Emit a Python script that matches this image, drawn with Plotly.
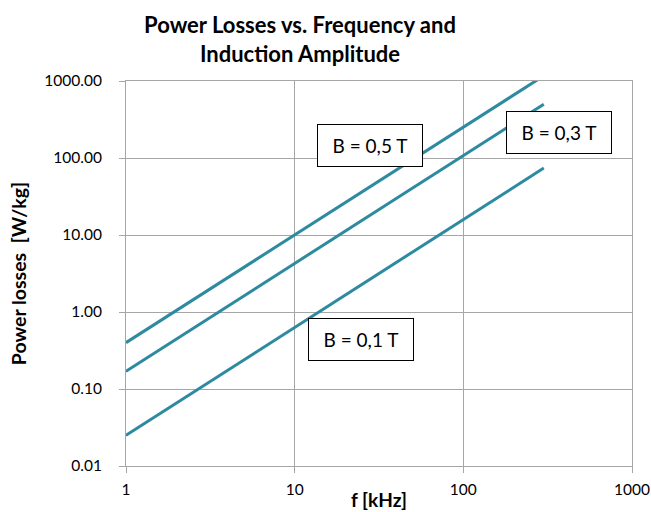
import plotly.graph_objects as go

freq_khz = [1, 10, 100, 300]
loss_b05 = [0.40, 10.0, 252, 1170]
loss_b03 = [0.17, 4.25, 107, 500]
loss_b01 = [0.025, 0.63, 15.8, 74]
series_names = ["B = 0,5 T", "B = 0,3 T", "B = 0,1 T"]
y_ticks = [0.01, 0.1, 1, 10, 100, 1000]
x_ticks = [1, 10, 100, 1000]

LINE = "#2E8AA0"
GRID = "#A6A6A6"
FONT = "Lato, Open Sans, sans-serif"

W, H = 651, 512

fig = go.Figure()
for name, ys in zip(series_names, [loss_b05, loss_b03, loss_b01]):
    fig.add_trace(go.Scatter(x=freq_khz, y=ys, mode="lines", name=name,
                             line=dict(color=LINE, width=3), showlegend=False))

ann_pos = [(0.482, 0.8325), (0.855, 0.8675), (0.465, 0.3286)]
for name, (ax, ay) in zip(series_names, ann_pos):
    fig.add_annotation(x=ax, y=ay, xref="paper", yref="paper", text=name,
                       xanchor="center", yanchor="middle",
                       showarrow=False, bgcolor="white", bordercolor="black",
                       borderwidth=1, width=102, height=39,
                       font=dict(size=19, color="black", family=FONT))

# x-axis title (placed as annotation so it sits at the bottom edge like the reference)
fig.add_annotation(x=0.5, y=-0.1185, xref="paper", yref="paper",
                   text="<b>f [kHz]</b>", showarrow=False,
                   xanchor="center", yanchor="bottom", borderpad=0,
                   font=dict(size=19, color="black", family=FONT))

fig.update_layout(
    width=W, height=H,
    margin=dict(l=126, r=19, t=81, b=46, autoexpand=False),
    paper_bgcolor="white", plot_bgcolor="white",
    title=dict(text="<b>Power Losses vs. Frequency and<br>Induction Amplitude</b>",
               x=300/W, xanchor="center", y=0.935, yanchor="top",
               font=dict(size=22, color="black", family=FONT)),
    font=dict(family=FONT, color="black"),
)
fig.update_xaxes(type="log", range=[0, 3], tickvals=x_ticks,
                 ticktext=[str(v) for v in x_ticks], automargin=False,
                 showgrid=True, gridcolor=GRID, gridwidth=1,
                 showline=True, linecolor=GRID, linewidth=1, mirror=True,
                 ticks="outside", ticklen=6, tickcolor=GRID, ticklabelstandoff=3,
                 tickfont=dict(size=15.5, family=FONT))
fig.update_yaxes(type="log", range=[-2, 3], tickvals=y_ticks,
                 ticktext=[f"{v:.2f}" for v in y_ticks], automargin=False,
                 showgrid=True, gridcolor=GRID, gridwidth=1,
                 showline=True, linecolor=GRID, linewidth=1, mirror=True,
                 ticks="outside", ticklen=6, tickcolor=GRID, ticklabelstandoff=14,
                 tickfont=dict(size=15.5, family=FONT),
                 title=dict(text="<b>Power losses  [W/kg]</b>", font=dict(size=19.5, family=FONT), standoff=12))

fig.write_html("out.html", config={"displayModeBar": False},
               post_script="document.body.style.margin='0';document.body.style.overflow='hidden';")
